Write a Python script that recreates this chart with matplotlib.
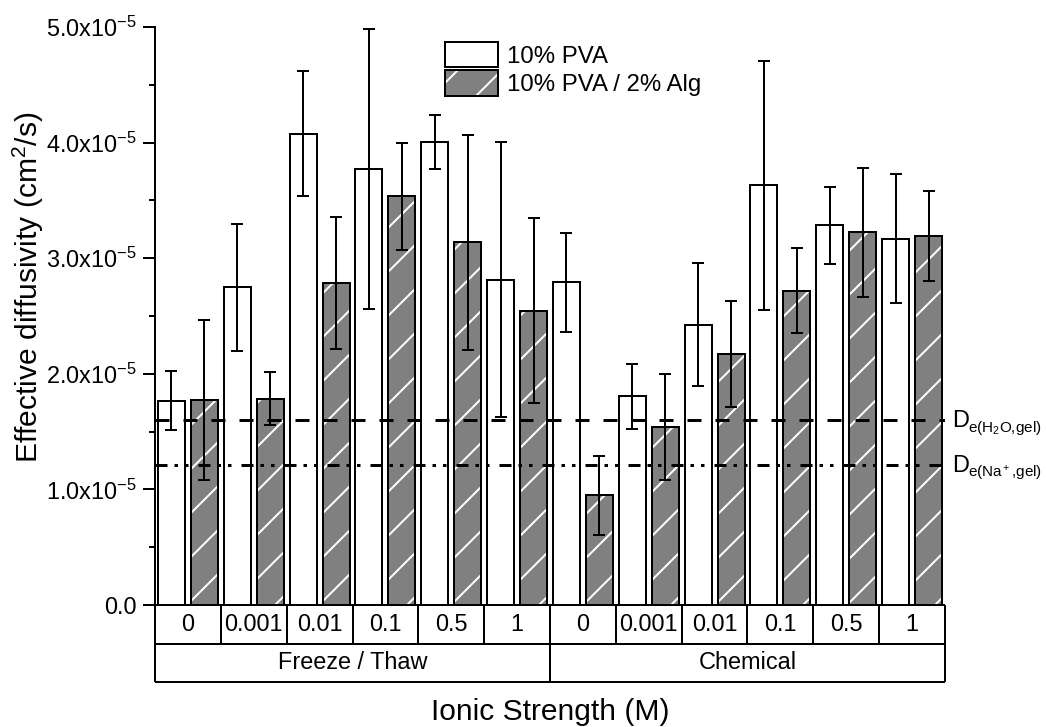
import matplotlib
matplotlib.use("Agg")
import matplotlib.pyplot as plt
import numpy as np
from matplotlib.patches import Rectangle
from matplotlib.legend_handler import HandlerTuple

# ---- data (diffusivities in units of 1e-5 cm^2/s) ----
methods = ["Freeze / Thaw", "Chemical"]
ionic = ["0", "0.001", "0.01", "0.1", "0.5", "1"]
series = ["10% PVA", "10% PVA / 2% Alg"]

pva = [1.765, 2.748, 4.077, 3.774, 4.005, 2.814,
       2.791, 1.805, 2.425, 3.630, 3.284, 3.169]
pva_err = [0.255, 0.55, 0.54, 1.21, 0.23, 1.19,
           0.43, 0.28, 0.53, 1.08, 0.33, 0.56]
alg = [1.773, 1.785, 2.785, 3.535, 3.137, 2.546,
       0.948, 1.542, 2.171, 2.719, 3.223, 3.195]
alg_err = [0.695, 0.23, 0.57, 0.46, 0.93, 0.80,
           0.34, 0.46, 0.46, 0.37, 0.56, 0.39]

ref_water = 1.60
ref_na = 1.21
ref_symbol = "D"
ref_subscripts = ["e(H$_2$O,gel)", "e(Na$^+$,gel)"]
ytick_vals = [0, 1, 2, 3, 4, 5]
unit = 1e-5

# ---- styling helpers ----
DPI = 132
W, H = 1046, 727


def pt(px):
    """Convert pixels to points at the output resolution."""
    return px * 72.0 / DPI


GRAY = "#808080"
plt.rcParams.update({
    "font.family": ["Liberation Sans", "DejaVu Sans"],
    "mathtext.fontset": "custom",
    "mathtext.rm": "Liberation Sans",
    "mathtext.it": "Liberation Sans",
    "mathtext.bf": "Liberation Sans:bold",
    "mathtext.default": "rm",
    "hatch.linewidth": pt(2),
    "lines.scale_dashes": False,
})

fig = plt.figure(figsize=(W / DPI, H / DPI), dpi=DPI)
L, R, T, B = 155, 945, 27, 605
ax = fig.add_axes([L / W, 1 - B / H, (R - L) / W, (B - T) / H])

x = np.arange(len(methods) * len(ionic))
off, bw = 0.25, 0.41
pva_v = np.array(pva) * unit
alg_v = np.array(alg) * unit
pva_e = np.array(pva_err) * unit
alg_e = np.array(alg_err) * unit

ax.bar(x - off, pva_v, bw, facecolor="white", edgecolor="black",
       linewidth=pt(2), zorder=2)
ax.bar(x + off, alg_v, bw, facecolor=GRAY, edgecolor="white", hatch="/",
       linewidth=0, zorder=2)
ax.bar(x + off, alg_v, bw, fill=False, edgecolor="black",
       linewidth=pt(2), zorder=3)

for xs, v, e in [(x - off, pva_v, pva_e), (x + off, alg_v, alg_e)]:
    ax.errorbar(xs, v, yerr=e, fmt="none", ecolor="black",
                elinewidth=pt(2), capsize=pt(6), capthick=pt(2), zorder=5)

# reference diffusivities with their labels at the right edge
ax.axhline(ref_water * unit, color="black", lw=pt(3),
           dashes=(pt(14), pt(14)), zorder=4)
ax.axhline(ref_na * unit, color="black", lw=pt(3),
           dashes=(pt(12), pt(7), pt(3.5), pt(7), pt(3.5), pt(10)), zorder=4)
for val, sub in zip([ref_water, ref_na], ref_subscripts):
    ax.annotate(ref_symbol, xy=(1.0, val * unit), xycoords=ax.get_yaxis_transform(),
                xytext=(pt(7), -pt(7)), textcoords="offset points",
                ha="left", va="baseline", fontsize=pt(23.5), annotation_clip=False)
    ax.annotate(sub, xy=(1.0, val * unit), xycoords=ax.get_yaxis_transform(),
                xytext=(pt(23), -pt(12)), textcoords="offset points",
                ha="left", va="baseline", fontsize=pt(15.3), annotation_clip=False)

ax.set_xlim(-0.5, len(x) - 0.5)
ax.set_ylim(0, ytick_vals[-1] * unit)
for s in ["top", "right", "bottom"]:
    ax.spines[s].set_visible(False)
ax.spines["left"].set_linewidth(pt(2))
ax.set_xticks([])
ax.set_yticks(np.array(ytick_vals) * unit)
ax.set_yticklabels(["0.0" if v == 0 else f"{v:.1f}x10$^{{-5}}$" for v in ytick_vals])
ax.set_yticks((np.array(ytick_vals[:-1]) + 0.5) * unit, minor=True)
ax.tick_params(axis="y", which="major", direction="out", length=pt(12),
               width=pt(2), pad=pt(6), labelsize=pt(23.5))
ax.tick_params(axis="y", which="minor", direction="out", length=pt(6),
               width=pt(2))

# ---- category table under the bars ----
TB = 682
tb = fig.add_axes([L / W, 1 - TB / H, (R - L) / W, (TB - B) / H])
tb.set_xlim(-0.5, len(x) - 0.5)
tb.set_ylim(0, 2)
tb.axis("off")
lw = pt(2)
n = len(x)
tb.hlines([0, 1, 2], -0.5, n - 0.5, color="black", lw=lw, clip_on=False)
tb.vlines([-0.5, n - 0.5], 0, 2, color="black", lw=lw, clip_on=False)
tb.vlines(np.arange(0.5, n - 1, 1), 1, 2, color="black", lw=lw, clip_on=False)
tb.vlines([len(ionic) - 0.5], 0, 1, color="black", lw=lw, clip_on=False)
for i, xi in enumerate(x):
    tb.text(xi, 1.5, ionic[i % len(ionic)], ha="center", va="center",
            fontsize=pt(23.5))
for j, m in enumerate(methods):
    tb.text(j * len(ionic) + (len(ionic) - 1) / 2, 0.5, m, ha="center",
            va="center", fontsize=pt(23.5))

# ---- axis titles ----
fig.text(28 / W, 1 - 287 / H, "Effective diffusivity (cm$^2$/s)", rotation=90,
         ha="center", va="center", fontsize=pt(30))
fig.text(550 / W, 1 - 712 / H, "Ionic Strength (M)", ha="center", va="center",
         fontsize=pt(30))

# ---- legend ----
h_white = Rectangle((0, 0), 1, 1, facecolor="white", edgecolor="black", lw=pt(2))
h_fill = Rectangle((0, 0), 1, 1, facecolor=GRAY, edgecolor="white", hatch="/", lw=0)
h_edge = Rectangle((0, 0), 1, 1, fill=False, edgecolor="black", lw=pt(2))
fig.legend([h_white, (h_fill, h_edge)], series,
           handler_map={tuple: HandlerTuple(ndivide=1, pad=0)},
           loc="upper left", bbox_to_anchor=(445 / W, 1 - 42 / H),
           frameon=False, fontsize=pt(24), handlelength=2.2, handleheight=1.23,
           handletextpad=0.37, labelspacing=0.12, borderpad=0, borderaxespad=0)

fig.savefig("out.png", dpi=DPI)
